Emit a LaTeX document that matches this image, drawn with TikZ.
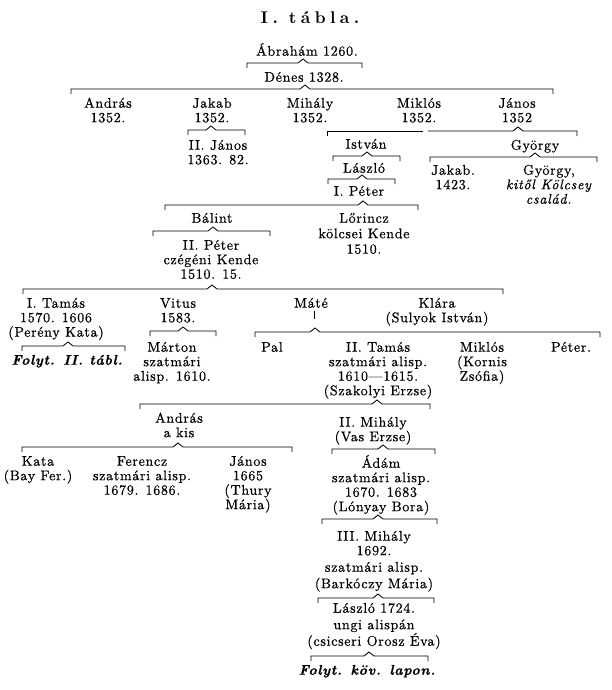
\documentclass[tikz,border=0pt]{standalone}
\usepackage{fontspec}
\setmainfont{lmroman10-regular.otf}[BoldFont=lmroman10-bold.otf,ItalicFont=lmroman10-italic.otf,BoldItalicFont=lmroman10-bolditalic.otf]
\newcommand\tx{\fontsize{14}{14.5}\selectfont\addfontfeatures{LetterSpace=5,FakeBold=0.6}\lineskiplimit=-20pt\relax}
\newcommand\ttl{\fontsize{17}{20}\selectfont\bfseries\addfontfeatures{LetterSpace=26}}
\newcommand\fol{\bfseries\itshape}
\tikzset{
  lbl/.style={anchor=north,yshift=8.5pt,inner sep=0pt,align=center,font=\tx},
  br/.style={line width=0.85pt,line join=miter},
}
\newcommand\pers[4]{\node[lbl] (#1) at (#2,#3) {\rule{0pt}{13pt}#4};}
\newcommand\brc[5]{%
  \coordinate (#1l) at (#2,#5+5);
  \coordinate (#1r) at (#3,#5+5);
  \coordinate (#1p) at (#4,#5-4);
  \draw[br] (#1l) -- (#2,#5) -- (#4-5,#5) -- (#1p) -- (#4+5,#5) -- (#3,#5) -- (#1r);}
\begin{document}
\begin{tikzpicture}[x=1pt,y=-1pt]
\fill[white] (0,0) rectangle (611,690);
\useasboundingbox (0,0) rectangle (611,690);
\node[font=\ttl,inner sep=0pt] (title) at (310,18) {I. tábla.};
\pers{abr}{307}{51}{Ábrahám 1260.}
\brc{bA}{247}{362}{303}{63}
\pers{den}{304}{77}{Dénes 1328.}
\brc{bD}{71}{553}{305}{89}
\pers{and1}{108}{103}{András\\1352.}
\pers{jak1}{212}{103}{Jakab\\1352.}
\pers{mih1}{310}{103}{Mihály\\1352.}
\pers{mik1}{419}{103}{Miklós\\1352.}
\pers{jan1}{517}{103}{János\\1352}
\brc{bJ}{188}{245}{211}{130}
\pers{jan2}{218}{145}{II. János\\1363. 82.}
% Mihaly / Janos line
\coordinate (mjl) at (327,136);
\coordinate (mjr) at (577,136);
\coordinate (mjp) at (518,127);
\draw[br] (mjl) -- (327,131) -- (423,131);
\draw[br] (428,131) -- (513,131) -- (mjp) -- (523,131) -- (577,131) -- (mjr);
\pers{ist}{366}{144}{István}
\brc{bI}{333}{400}{367}{156}
\pers{las1}{364}{168}{László}
\brc{bL}{328}{395}{362}{179}
\pers{pet1}{359}{191}{I. Péter}
\pers{gyo1}{535}{145}{György}
\brc{bG}{430}{597}{535}{157}
\pers{jak2}{453}{170}{Jakab.\\1423.}
\pers{gyo2}{549}{170}{György,\\\textit{kitől Kölcsey}\\\textit{család.}}
\brc{bP}{165}{418}{363}{205}
\pers{bal}{212}{218}{Bálint}
\pers{lor}{364}{218}{Lőrincz\\[1pt]kölcsei Kende\\[1pt]1510.}
\brc{bB}{153}{270}{213}{231}
\pers{pet2}{211}{245}{II. Péter\\czégéni Kende\\1510. 15.}
\brc{bT}{23}{503}{212}{289}
\pers{tam1}{56}{303}{I. Tamás\\1570. 1606\\(Perény Kata)}
\brc{bTa}{22}{125}{68}{346}
\pers{fol1}{67}{360}{\fol Folyt. II. tábl.}
\pers{vit}{178}{303}{Vitus\\1583.}
\brc{bV}{150}{216}{183}{331}
\pers{mar}{172}{347}{Márton\\szatmári\\alisp. 1610.}
\pers{mat}{311}{303}{Máté}
\draw[br] ([xshift=3pt,yshift=-3pt]mat.south) -- ++(0,8);
\pers{kla}{437}{303}{Klára\\(Sulyok István)}
\brc{bM}{255}{600}{315}{332}
\pers{pal}{272}{347}{Pal}
\pers{tam2}{378}{347}{II. Tamás\\szatmári alisp.\\1610—1615.\\(Szakolyi Erzse)}
\pers{mik2}{482}{347}{Miklós\\(Kornis\\Zsófia)}
\pers{pet3}{571}{347}{Péter.}
\brc{bS}{140}{430}{377}{404}
\pers{and2}{179}{418}{András\\a kis}
\brc{bAK}{22}{292}{178}{447}
\pers{kat}{38}{461}{Kata\\(Bay Fer.)}
\pers{fer}{142}{461}{Ferencz\\szatmári alisp.\\1679. 1686.}
\pers{jan3}{248}{461}{János\\1665\\(Thury\\Mária)}
\pers{mih2}{373}{422}{II. Mihály\\(Vas Erzse)}
\brc{bVE}{332}{435}{383}{449}
\pers{ada}{381}{463}{Ádám\\szatmári alisp.\\1670. 1683\\(Lónyay Bora)}
\brc{bLB}{322}{437}{378}{519}
\pers{mih3}{374}{536}{III. Mihály\\1692.\\[2pt]szatmári alisp.\\[2pt](Barkóczy Mária)}
\brc{bBM}{318}{434}{378}{598}
\pers{las2}{374}{608}{László 1724.\\[2pt]ungi alispán\\[2pt](csicseri Orosz Éva)}
\brc{bOE}{311}{428}{369}{656}
\pers{fol2}{367}{670}{\fol Folyt. köv. lapon.}
\end{tikzpicture}
\end{document}
